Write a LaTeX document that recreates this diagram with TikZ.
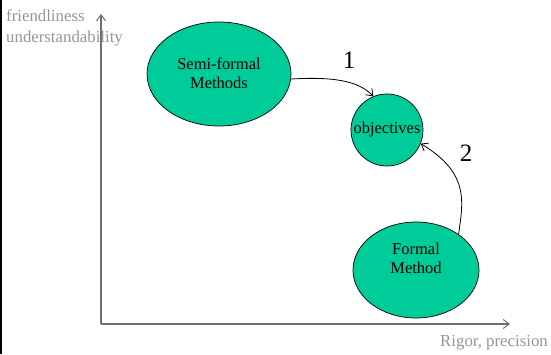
\documentclass[tikz,border=0pt]{standalone}
\usepackage{fontspec}
\setmainfont{Liberation Serif}
\usetikzlibrary{arrows.meta,shapes.geometric}
\definecolor{fillgreen}{HTML}{00CC99}
\definecolor{axisgray}{HTML}{6E6E6E}
\definecolor{labelgray}{HTML}{969696}
\begin{document}
\begin{tikzpicture}[x=1pt,y=1pt,
  blob/.style={ellipse, draw=black, line width=0.7pt, fill=fillgreen, inner sep=0pt, align=center, font=\fontsize{16.5}{19}\selectfont},
  axis/.style={draw=axisgray, line width=1.3pt, -{Straight Barb[length=6pt,width=9pt,line width=1pt]}},
  conn/.style={draw=black, line width=0.8pt, -{Straight Barb[length=6pt,width=9pt,line width=0.8pt]}},
  axlabel/.style={text=labelgray, font=\fontsize{16.8}{21}\selectfont, inner sep=0pt},
  num/.style={font=\fontsize{25}{25}\selectfont, inner sep=0pt}]
\useasboundingbox (0,0) rectangle (551,354);
\fill[white] (0,0) rectangle (551,354);
\draw[black, line width=1.6pt] (0.8,0) -- (0.8,354);
% axes
\coordinate (origin) at (101,30);
\coordinate (ytip) at (101,340);
\coordinate (xtip) at (510,30);
\draw[axis] (origin) -- (ytip);
\draw[axis] (origin) -- (xtip);
\node[axlabel, anchor=west, align=left] (ylab) at (6,326.5) {friendliness\\understandability};
\node[axlabel, anchor=east] (xlab) at (548,11) {Rigor, precision};
% nodes
\node[blob, minimum width=144pt, minimum height=104pt] (semi) at (219,280) {\raisebox{-6pt}[0pt][0pt]{\begin{tabular}{@{}c@{}}Semi-formal\\Methods\end{tabular}}};
\node[blob, minimum width=72pt, minimum height=72pt] (obj) at (387,224) {\makebox[0pt]{objectives}};
\node[blob, minimum width=126pt, minimum height=96pt] (formal) at (416,84) {\raisebox{5pt}[0pt][0pt]{\begin{tabular}{@{}c@{}}Formal\\Method\end{tabular}}};
% connectors
\draw[conn] (semi.-4) .. controls +(50,3) and +(-13,13) .. (obj.112);
\draw[conn] (formal.40) .. controls +(4,31) and +(50,-30) .. (obj.-22);
\node[num] (n1) at (349,294) {1};
\node[num] (n2) at (466,201) {2};
\end{tikzpicture}
\end{document}
